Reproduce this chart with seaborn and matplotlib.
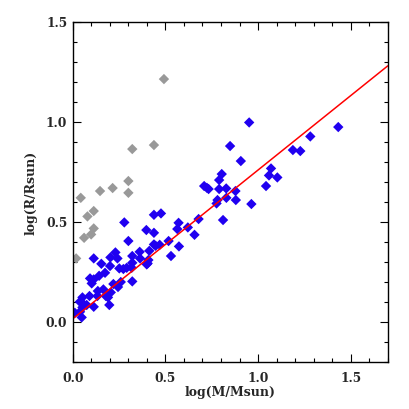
import matplotlib
matplotlib.use("Agg")
import matplotlib.pyplot as plt
import seaborn as sns
import numpy as np
import pandas as pd
from matplotlib.ticker import MultipleLocator, FormatStrFormatter

gray_x = [0.018, 0.043, 0.061, 0.079, 0.099, 0.113, 0.113, 0.147, 0.215, 0.300, 0.300, 0.321, 0.438, 0.492]
gray_y = [0.320, 0.623, 0.423, 0.530, 0.440, 0.557, 0.470, 0.657, 0.672, 0.707, 0.648, 0.867, 0.887, 1.217]

blue_x = [0.952, 1.433, 1.282, 0.849, 1.188, 1.228, 0.907, 1.070, 1.059, 1.104,
          0.804, 0.790, 0.709, 0.724, 0.733, 0.790, 0.828, 0.878, 1.043, 0.829,
          0.781, 0.776, 0.880, 0.964, 0.811, 0.679, 0.621, 0.571, 0.564, 0.657,
          0.517, 0.573, 0.530, 0.476, 0.438, 0.278, 0.438, 0.397, 0.438, 0.469,
          0.447, 0.413, 0.361, 0.363, 0.321, 0.300, 0.408, 0.399, 0.404, 0.321,
          0.318, 0.291, 0.273, 0.251, 0.241, 0.230, 0.203, 0.201, 0.154, 0.142,
          0.113, 0.174, 0.093, 0.113, 0.102, 0.321, 0.259, 0.244, 0.219, 0.205,
          0.165, 0.135, 0.133, 0.178, 0.190, 0.197, 0.090, 0.052, 0.038, 0.054,
          0.075, 0.113, 0.011, 0.039, 0.048, 0.052]
blue_y = [1.000, 0.977, 0.930, 0.882, 0.862, 0.857, 0.807, 0.770, 0.735, 0.725,
          0.742, 0.712, 0.682, 0.673, 0.667, 0.667, 0.670, 0.657, 0.682, 0.623,
          0.612, 0.595, 0.612, 0.592, 0.512, 0.517, 0.475, 0.498, 0.467, 0.438,
          0.407, 0.380, 0.332, 0.545, 0.538, 0.500, 0.448, 0.462, 0.390, 0.388,
          0.383, 0.358, 0.353, 0.320, 0.332, 0.407, 0.312, 0.290, 0.295, 0.298,
          0.273, 0.273, 0.267, 0.270, 0.320, 0.350, 0.325, 0.282, 0.293, 0.233,
          0.320, 0.248, 0.220, 0.215, 0.195, 0.205, 0.202, 0.177, 0.192, 0.150,
          0.165, 0.157, 0.132, 0.132, 0.125, 0.087, 0.132, 0.125, 0.103, 0.095,
          0.087, 0.078, 0.048, 0.053, 0.025, 0.075]

fit_x = [0.0, 1.7]
fit_y = [0.018, 1.283]

sns.set_theme(style="ticks")
plt.rcParams['font.family'] = ['DejaVu Serif']

fig = plt.figure(figsize=(4.09, 4.09), dpi=100)
ax = fig.add_axes([0.178, 0.114, 0.770, 0.831])

gray_df = pd.DataFrame({"x": gray_x, "y": gray_y})
blue_df = pd.DataFrame({"x": blue_x, "y": blue_y})
fit_df = pd.DataFrame({"x": fit_x, "y": fit_y})

sns.scatterplot(data=gray_df, x="x", y="y", ax=ax, marker="D", s=28,
                color="#999999", edgecolor="none", linewidth=0)
sns.scatterplot(data=blue_df, x="x", y="y", ax=ax, marker="D", s=28,
                color="#2000f0", edgecolor="none", linewidth=0)
sns.lineplot(data=fit_df, x="x", y="y", ax=ax, color="#ff0000", linewidth=1.1)

ax.set_xlim(0, 1.7)
ax.set_ylim(-0.2, 1.5)
ax.xaxis.set_major_locator(MultipleLocator(0.5))
ax.xaxis.set_minor_locator(MultipleLocator(0.1))
ax.yaxis.set_major_locator(MultipleLocator(0.5))
ax.yaxis.set_minor_locator(MultipleLocator(0.1))
ax.xaxis.set_major_formatter(FormatStrFormatter('%.1f'))
ax.yaxis.set_major_formatter(FormatStrFormatter('%.1f'))
ax.tick_params(which="both", direction="in", top=True, right=True, color="black")
ax.tick_params(which="major", length=6, width=0.8, labelsize=8.8)
ax.tick_params(axis="x", which="major", pad=7)
ax.tick_params(axis="y", which="major", pad=4)
ax.tick_params(which="minor", length=3, width=0.8)
for lab in ax.get_xticklabels() + ax.get_yticklabels():
    lab.set_fontweight("bold")
for sp in ax.spines.values():
    sp.set_visible(True)
    sp.set_color("black")
    sp.set_linewidth(1.0)

ax.set_xlabel("log(M/Msun)", fontsize=9, fontweight="bold", labelpad=1)
ax.set_ylabel("log(R/Rsun)", fontsize=9, fontweight="bold", labelpad=6)

fig.savefig("out.png", dpi=100)
